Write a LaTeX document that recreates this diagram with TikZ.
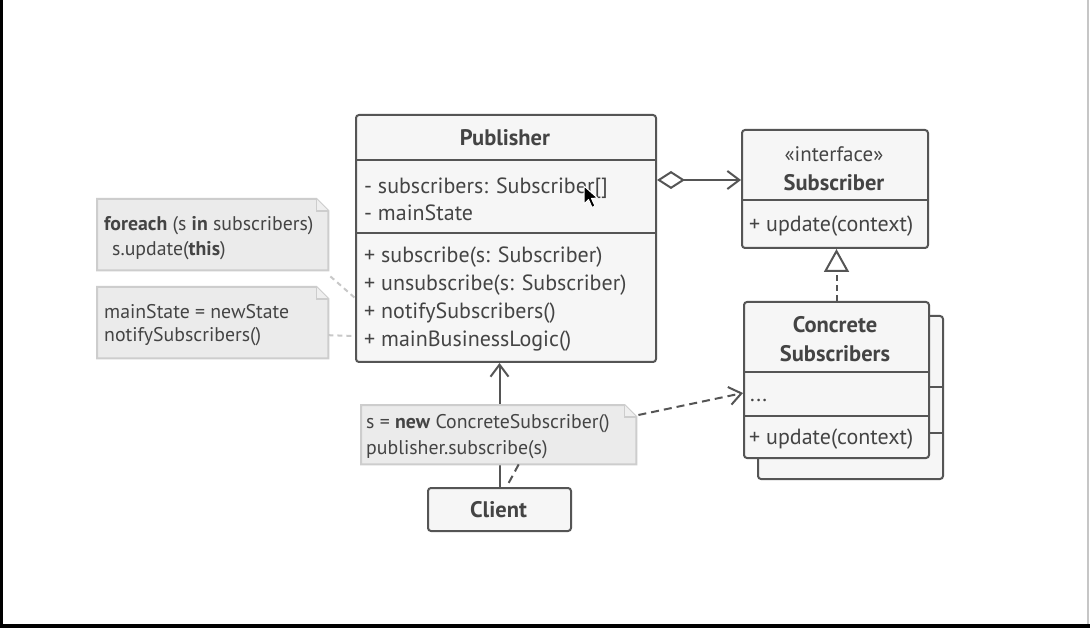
\documentclass[tikz,border=0pt]{standalone}
\usepackage{fontspec}
\setmainfont{PT Sans}
\usetikzlibrary{arrows.meta}
\definecolor{ln}{HTML}{555555}
\definecolor{tx}{HTML}{444444}
\definecolor{bx}{HTML}{F6F6F6}
\definecolor{nf}{HTML}{EBEBEB}
\definecolor{nb}{HTML}{CDCDCD}
\definecolor{nl}{HTML}{C8C8C8}
\begin{document}
\begin{tikzpicture}[x=1pt,y=-1pt,
  box/.style={draw=ln, fill=bx, line width=2pt, rounded corners=3pt, inner sep=0pt, anchor=north west},
  notebox/.style={inner sep=0pt, anchor=north west},
  notedraw/.style={draw=nb, fill=nf, line width=2pt, line join=miter},
  txt/.style={anchor=west, text=tx, inner sep=0pt, font=\fontsize{22}{26}\selectfont},
  ttl/.style={anchor=center, text=tx, inner sep=0pt, align=center, font=\fontsize{22.5}{29}\selectfont\bfseries},
  ntxt/.style={anchor=west, text=tx, inner sep=0pt, font=\fontsize{19.8}{22}\selectfont},
  divider/.style={draw=ln, line width=2pt},
  conn/.style={draw=ln, line width=2pt},
  dconn/.style={draw=ln, line width=2pt, dash pattern=on 8pt off 5pt},
  nconn/.style={draw=nl, line width=2pt, dash pattern=on 5pt off 4pt},
  barb/.style={-{Straight Barb[length=12pt,width=18pt]}}
]
\path[use as bounding box, fill=white] (0,0) rectangle (1090,628);
\fill[black] (0,0) rectangle (2.5,628);
\fill[black] (0,624) rectangle (1090,628);
\fill[gray!45] (1087,0) rectangle (1089,624);

% ---------- Publisher ----------
\node[box, minimum width=300pt, minimum height=247pt] (pub) at (355,114) {};
\draw[divider] (pub.north west |- 0,160) -- (pub.north east |- 0,160);
\draw[divider] (pub.north west |- 0,233) -- (pub.north east |- 0,233);
\node[ttl] (pubT) at (505,138) {Publisher};
\node[txt] (pa1) at (364,188) {- subscribers: Subscriber[]};
\node[txt] (pa2) at (364,213) {- mainState};
\node[txt] (pm1) at (364,257) {+ subscribe(s: Subscriber)};
\node[txt] (pm2) at (364,285) {+ unsubscribe(s: Subscriber)};
\node[txt] (pm3) at (364,313) {+ notifySubscribers()};
\node[txt] (pm4) at (364,341) {+ mainBusinessLogic()};

% ---------- Subscriber interface ----------
\node[box, minimum width=186pt, minimum height=118pt] (sub) at (741,129) {};
\draw[divider] (sub.north west |- 0,200) -- (sub.north east |- 0,200);
\node[anchor=center, text=tx, inner sep=0pt, font=\fontsize{21}{24}\selectfont] (subS) at (834,154) {«interface»};
\node[ttl] (subT) at (834,183) {Subscriber};
\node[txt] (subM) at (749,226) {+ update(context)};

% ---------- Concrete Subscribers ----------
\node[box, minimum width=185pt, minimum height=163pt] (conB) at (757,315) {};
\draw[divider] (conB.north west |- 0,387) -- (conB.north east |- 0,387);
\draw[divider] (conB.north west |- 0,433) -- (conB.north east |- 0,433);
\node[box, minimum width=185pt, minimum height=156pt] (con) at (743,301) {};
\draw[divider] (con.north west |- 0,372) -- (con.north east |- 0,372);
\draw[divider] (con.north west |- 0,416) -- (con.north east |- 0,416);
\node[ttl] (conT) at (835,339) {Concrete\\Subscribers};
\node[txt] (conA) at (750,400) {...};
\node[txt] (conM) at (749,439) {+ update(context)};

% ---------- Client ----------
\node[box, minimum width=143pt, minimum height=43pt] (cli) at (427,487) {};
\node[ttl] (cliT) at (498.5,510) {Client};

% ---------- connectors under notes ----------
\draw[conn, barb] (cli.north) -- (cli.north |- pub.south);

% ---------- Notes ----------
\node[notebox, minimum width=231pt, minimum height=71pt] (n1) at (97,199) {};
\node[notebox, minimum width=231pt, minimum height=71pt] (n2) at (97,287) {};
\node[notebox, minimum width=275pt, minimum height=59pt] (n3) at (361,405) {};
\foreach \n in {n1,n2,n3}{
  \draw[notedraw] (\n.north west) -- ([xshift=-12pt]\n.north east) -- ([yshift=-12pt]\n.north east) -- (\n.south east) -- (\n.south west) -- cycle;
  \draw[draw=nb, line width=1.5pt, fill=nf!80!white] ([xshift=-12pt]\n.north east) -- ([xshift=-12pt,yshift=-12pt]\n.north east) -- ([yshift=-12pt]\n.north east);
}
\node[ntxt] (n1a) at (104,226) {\textbf{foreach} (s \textbf{in} subscribers)};
\node[ntxt] (n1b) at (112,251) {s.update(\textbf{this})};
\node[ntxt] (n2a) at (104,312) {mainState = newState};
\node[ntxt] (n2b) at (104,337) {notifySubscribers()};
\node[ntxt] (n3a) at (366,424) {s = \textbf{new} ConcreteSubscriber()};
\node[ntxt] (n3b) at (366,450) {publisher.subscribe(s)};

% ---------- connectors ----------
\draw[conn, {Diamond[open,length=28pt,width=18pt]}-{Straight Barb[length=12pt,width=18pt]}]
  ([yshift=-66pt]pub.north east) -- ([yshift=-51pt]sub.north west);
\draw[draw=ln, line width=2pt, dash pattern=on 6pt off 4pt, -{Triangle[open,length=23pt,width=25pt]}]
  (con.north) -- (con.north |- sub.south);
\draw[dconn, barb] ([xshift=2pt,yshift=-10pt]n3.north east) -- ([yshift=-92pt]con.north west);
\draw[dconn] ([xshift=20pt]n3.south) -- ([xshift=7pt]cli.north);
\draw[nconn] ([xshift=2pt,yshift=-6pt]n1.south east) -- ([yshift=-59.5pt]pub.west);
\draw[nconn] ([yshift=-12.5pt]n2.east) -- ([yshift=-97.5pt]pub.west);

% ---------- mouse cursor ----------
\draw[white, fill=black, line width=1pt, line join=round]
  (584,186) -- (584,204) -- (588.5,199.5) -- (592,207.5) -- (595,206) -- (591.5,198.5) -- (597.5,198) -- cycle;
\end{tikzpicture}
\end{document}
